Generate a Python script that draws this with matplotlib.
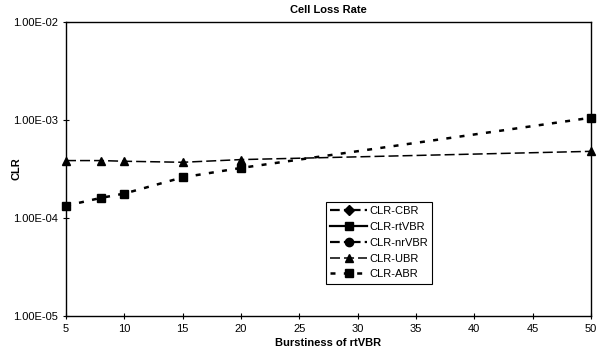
import numpy as np
import matplotlib
matplotlib.use("Agg")
import matplotlib.pyplot as plt
from matplotlib.ticker import FuncFormatter, FixedLocator

plt.rcParams["font.family"] = ["Liberation Sans", "DejaVu Sans"]
plt.rcParams["lines.scale_dashes"] = False

# ── Data ──────────────────────────────────────────────────────────────────────
burstiness = [5, 8, 10, 15, 20, 50]
clr_cbr    = [0.0, 0.0, 0.0, 0.0, 0.0, 0.0]
clr_rtvbr  = [0.0, 0.0, 0.0, 0.0, 0.0, 0.0]
clr_nrvbr  = [0.0, 0.0, 0.0, 0.0, 0.0, 0.0]
clr_ubr    = [3.84e-4, 3.84e-4, 3.78e-4, 3.69e-4, 3.93e-4, 4.77e-4]
clr_abr    = [1.33e-4, 1.60e-4, 1.77e-4, 2.59e-4, 3.23e-4, 1.05e-3]

series_names = ["CLR-CBR", "CLR-rtVBR", "CLR-nrVBR", "CLR-UBR", "CLR-ABR"]
x_ticks = [5, 10, 15, 20, 25, 30, 35, 40, 45, 50]
y_ticks = [1e-5, 1e-4, 1e-3, 1e-2]

# ── Figure ────────────────────────────────────────────────────────────────────
fig = plt.figure(figsize=(6.04, 3.62), dpi=100)
ax = fig.add_axes([66 / 604, 46 / 362, 525 / 604, 294.3 / 362])

styles = [
    dict(marker="D", ms=5, lw=1.6, ls=(0, (7, 3, 2, 3))),
    dict(marker="s", ms=6, lw=1.6, ls="-"),
    dict(marker="o", ms=6, lw=1.6, ls=(0, (7, 3, 2, 3))),
    dict(marker="^", ms=6, lw=1.1, ls=(0, (7.2, 2.9))),
    dict(marker="s", ms=6, lw=1.8, ls=(0, (3.6, 6.0))),
]
all_series = [clr_cbr, clr_rtvbr, clr_nrvbr, clr_ubr, clr_abr]

for name, vals, st in zip(series_names, all_series, styles):
    y = np.array(vals, dtype=float)
    y = np.where(y > 0, y, np.nan)
    ax.plot(burstiness, y, color="black", label=name,
            markerfacecolor="black", markeredgecolor="black", clip_on=False,
            **st)

ax.set_yscale("log")
ax.set_xlim(5, 50)
ax.set_ylim(1e-5, 1e-2)
ax.xaxis.set_major_locator(FixedLocator(x_ticks))
ax.yaxis.set_major_locator(FixedLocator(y_ticks))
ax.yaxis.set_minor_locator(FixedLocator([]))
ax.yaxis.set_major_formatter(FuncFormatter(
    lambda v, p: "%.2fE%+03d" % (v / 10 ** np.floor(np.log10(v)), np.floor(np.log10(v)))))
ax.tick_params(direction="inout", length=5, width=0.8, labelsize=8, pad=3)

for spine in ax.spines.values():
    spine.set_linewidth(1.0)

ax.set_title("Cell Loss Rate", fontsize=8, fontweight="bold", pad=6)
ax.set_xlabel("Burstiness of rtVBR", fontsize=8, fontweight="bold", labelpad=3)
ax.set_ylabel("CLR", fontsize=8, fontweight="bold")
ax.yaxis.set_label_coords(-44 / 525, 0.5)

leg = ax.legend(loc="upper left", bbox_to_anchor=(260 / 525, 1 - 180.3 / 294.3),
                fontsize=8, frameon=True, fancybox=False, framealpha=1,
                edgecolor="black", handlelength=3.3, handletextpad=0.2,
                labelspacing=0.52, borderpad=0.38, borderaxespad=0)
leg.get_frame().set_linewidth(0.8)

fig.savefig("out.png", dpi=100)
